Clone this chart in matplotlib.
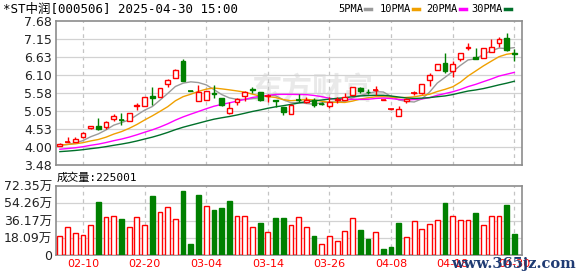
import matplotlib
matplotlib.use("Agg")
import matplotlib.pyplot as plt
from matplotlib.lines import Line2D
import numpy as np
import pandas as pd

plt.rcParams['font.family'] = ['DejaVu Sans', 'Noto Sans CJK SC']

title = "*ST中润[000506] 2025-04-30 15:00"

# trading days shown (04-04 was a holiday)
dates = pd.bdate_range("2025-02-05", "2025-04-30", freq="C",
                       holidays=["2025-04-04"]).strftime("%m-%d")

# daily candles
opens = [4.04, 4.15, 4.16, 4.30, 4.55, 4.63, 4.58, 4.83, 4.80, 4.76,
         5.21, 5.20, 5.49, 5.46, 5.84, 6.02, 6.52, 5.65, 5.36, 5.39,
         5.58, 5.42, 4.99, 5.32, 5.50, 5.69, 5.61, 5.49, 5.37, 5.16,
         4.97, 5.39, 5.32, 5.37, 5.27, 5.20, 5.38, 5.38, 5.53, 5.74,
         5.62, 5.66, 5.39, 5.12, 4.91, 5.34, 5.57, 5.57, 5.95, 6.25,
         6.45, 6.21, 6.58, 6.89, 6.62, 6.60, 6.78, 7.03, 7.18, 6.75]
highs = [4.11, 4.31, 4.29, 4.43, 4.62, 4.86, 4.75, 4.98, 5.00, 5.01,
         5.28, 5.47, 5.76, 5.74, 5.98, 6.27, 6.56, 5.65, 5.80, 5.65,
         5.81, 5.44, 5.32, 5.42, 5.63, 5.76, 5.62, 5.55, 5.37, 5.17,
         5.25, 5.54, 5.47, 5.42, 5.32, 5.46, 5.47, 5.59, 5.76, 5.75,
         5.71, 5.79, 5.39, 5.12, 5.19, 5.44, 5.65, 5.85, 6.16, 6.43,
         6.74, 6.50, 6.75, 7.05, 6.89, 6.90, 7.16, 7.22, 7.32, 6.87]
lows = [4.02, 4.14, 4.15, 4.27, 4.54, 4.51, 4.52, 4.76, 4.66, 4.75,
        5.08, 5.19, 5.24, 5.45, 5.75, 6.01, 5.94, 5.64, 5.36, 5.38,
        5.44, 5.21, 4.98, 5.24, 5.36, 5.57, 5.36, 5.32, 5.17, 4.93,
        4.96, 5.32, 5.28, 5.16, 5.22, 5.14, 5.30, 5.37, 5.52, 5.59,
        5.55, 5.53, 5.39, 5.12, 4.90, 5.30, 5.51, 5.56, 5.77, 6.24,
        6.15, 6.04, 6.52, 6.82, 6.57, 6.59, 6.77, 6.92, 6.81, 6.52]
closes = [4.10, 4.16, 4.23, 4.42, 4.61, 4.52, 4.74, 4.92, 4.79, 5.00,
          5.23, 5.46, 5.44, 5.73, 5.97, 6.25, 5.94, 5.64, 5.62, 5.64,
          5.56, 5.22, 5.15, 5.41, 5.62, 5.67, 5.37, 5.50, 5.35, 5.03,
          5.24, 5.37, 5.38, 5.24, 5.26, 5.32, 5.40, 5.45, 5.75, 5.63,
          5.60, 5.67, 5.39, 5.12, 5.10, 5.40, 5.58, 5.84, 6.11, 6.42,
          6.23, 6.42, 6.74, 6.91, 6.58, 6.89, 6.92, 7.15, 6.84, 6.72]
# closes before 02-05 (not drawn), guessed from where the MA lines begin
pre_closes = [3.70, 3.68, 3.72, 3.75, 3.71, 3.74, 3.76, 3.73, 3.77, 3.74,
              3.76, 3.79, 3.78, 3.80, 3.83, 3.81, 3.84, 3.86, 3.85, 3.88,
              3.98, 4.04, 4.08, 4.10, 4.10, 4.06, 4.02, 4.07, 4.05]
# volume in 万手
volumes = [20.2, 29.2, 23.0, 20.9, 31.3, 55.6, 39.6, 40.7, 37.6, 29.2,
           39.6, 31.3, 61.9, 44.9, 50.1, 37.6, 67.1, 11.8, 63.0, 51.1,
           47.3, 49.4, 56.7, 40.7, 40.7, 29.2, 33.4, 24.0, 38.6, 38.6,
           31.3, 39.6, 29.2, 20.2, 11.5, 19.8, 14.6, 25.0, 38.6, 26.4,
           17.0, 24.0, 6.6, 8.7, 33.7, 18.8, 35.5, 27.1, 32.3, 36.5,
           54.6, 40.7, 36.5, 36.5, 44.2, 31.3, 40.7, 40.7, 52.5, 22.5]
last_volume = 225001

ma_windows = [5, 10, 20, 30]
ma_names = ["5PMA", "10PMA", "20PMA", "30PMA"]
ma_colors = ["#9a9a9a", "#f0a000", "#ff00ff", "#00702a"]

price_ticks = [3.48, 4.005, 4.53, 5.055, 5.58, 6.105, 6.63, 7.155, 7.68]
price_labels = ["3.48", "4.00", "4.53", "5.05", "5.58", "6.10", "6.63", "7.15", "7.68"]
vol_ticks = [0, 18.09, 36.17, 54.26, 72.35]
vol_labels = ["0", "18.09万", "36.17万", "54.26万", "72.35万"]
xtick_dates = ["02-10", "02-20", "03-04", "03-14", "03-26", "04-08", "04-18", "04-30"]

RED = "#ff0000"
GREEN = "#008000"
GRID = "#d2d2d2"
FRAME = "#8c8c8c"
MONO = ["DejaVu Sans Mono", "Noto Sans CJK SC"]

o = np.array(opens); h = np.array(highs); l = np.array(lows); c = np.array(closes)
x = np.arange(len(c))
up = c >= o
body_lo = np.minimum(o, c)
body_hi = np.maximum(o, c)
col = np.where(up, RED, GREEN)
prev_c = np.r_[pre_closes[-1], c[:-1]]
vol_up = c >= prev_c
xt = [list(dates).index(d) for d in xtick_dates]

fig = plt.figure(figsize=(5.78, 2.76), dpi=100)
W, H = 578, 276
ax = fig.add_axes([56 / W, 1 - 165 / H, 466 / W, 144 / H])
axv = fig.add_axes([56 / W, 1 - 255 / H, 466 / W, 69 / H])

for a in (ax, axv):
    a.set_xlim(-0.5, len(c))
    for s in a.spines.values():
        s.set_color(FRAME)
        s.set_linewidth(1.2)
    a.tick_params(length=0, labelsize=9, colors="#222222", pad=3)
    for xi in xt:
        a.axvline(xi, color="#c4c4c4", lw=0.9, ls=(0, (3, 3)), zorder=0.5)

# watermark
ax.text(312 / W, 1 - 90 / H, "东方财富", transform=fig.transFigure, fontsize=22,
        fontweight="bold", color="#e9e9e9", ha="center", va="center",
        family=["Noto Sans CJK SC"], zorder=0.4)

# price panel
ax.set_ylim(3.48, 7.68)
ax.set_yticks(price_ticks)
ax.set_yticklabels(price_labels)
for yv in price_ticks[1:-1]:
    ax.axhline(yv, color=GRID, lw=0.9, zorder=0.5)
ax.set_xticks([])

ma_all = pd.Series(pre_closes + closes)
for w, mc in zip(ma_windows, ma_colors):
    ma = ma_all.rolling(w).mean().iloc[len(pre_closes):].to_numpy()
    ax.plot(x, ma, color=mc, lw=1.0, zorder=2)

ax.vlines(x, body_hi, h, color=col, lw=1.0, zorder=3)
ax.vlines(x, l, body_lo, color=col, lw=1.0, zorder=3)
ax.bar(x[up], (body_hi - body_lo)[up], bottom=body_lo[up], width=0.62,
       facecolor="white", edgecolor=RED, lw=1.0, zorder=4)
ax.bar(x[~up], (body_hi - body_lo)[~up], bottom=body_lo[~up], width=0.62,
       facecolor=GREEN, edgecolor=GREEN, lw=1.0, zorder=4)
flat = (body_hi - body_lo) < 0.02
ax.hlines(c[flat], x[flat] - 0.35, x[flat] + 0.35, color=col[flat], lw=1.2, zorder=5)

# volume panel
axv.set_ylim(0, 72.35)
axv.set_yticks(vol_ticks)
axv.set_yticklabels(vol_labels)
for yv in vol_ticks[1:-1]:
    axv.axhline(yv, color=GRID, lw=0.9, zorder=0.5)
v = np.array(volumes)
axv.bar(x[vol_up], v[vol_up], width=0.62, facecolor="white", edgecolor=RED, lw=1.0, zorder=3)
axv.bar(x[~vol_up], v[~vol_up], width=0.62, facecolor=GREEN, edgecolor=GREEN, lw=1.0, zorder=3)
axv.set_xticks(xt)
axv.set_xticklabels(xtick_dates, fontsize=8, color=RED)

# texts above the panels
fig.text(3 / W, 1 - 9 / H, title, fontsize=9, va="center", ha="left", family=MONO)
fig.text(57 / W, 1 - 178 / H, "成交量:%d" % last_volume, fontsize=8, va="center",
         ha="left", family=MONO)

leg_x = [338, 380, 426, 471]
for name, lx in zip(ma_names, leg_x):
    fig.text(lx / W, 1 - 9 / H, name, fontsize=7.5, va="center", ha="left", family=MONO)
for mc, lx in zip(ma_colors, [365, 413, 460, 505]):
    fig.add_artist(Line2D([lx / W, (lx + 6) / W], [1 - 9 / H, 1 - 9 / H],
                          color=mc, lw=2.5, transform=fig.transFigure))

# site watermark in the lower right, over the date labels as in the source
fig.text(513 / W, 1 - 264 / H, "www.365jz.com", fontsize=10.5, color="#1f3b73",
         ha="center", va="center", family=["DejaVu Serif"], fontweight="bold")

fig.savefig("out.png", dpi=100)
